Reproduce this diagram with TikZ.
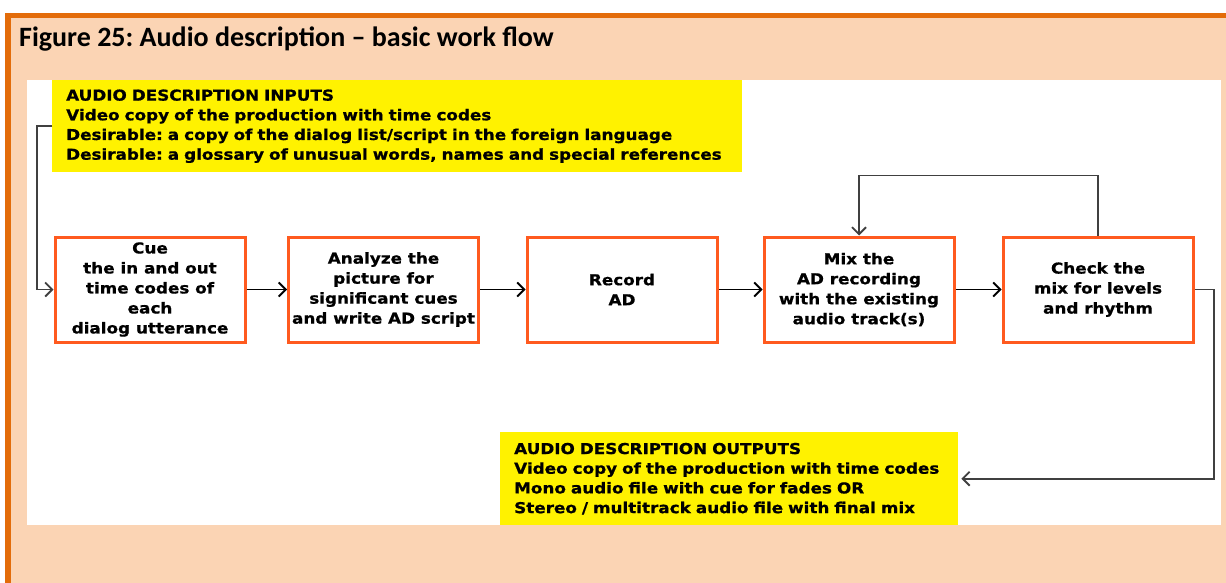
\documentclass[tikz,border=0pt]{standalone}
\usepackage{fontspec}
\setmainfont{DejaVu Sans}[BoldFeatures={FakeStretch=1.12,FakeBold=0.8}]
\newfontfamily\titlefont{Carlito}
\usetikzlibrary{arrows.meta}
\definecolor{peach}{HTML}{FBD4B4}
\definecolor{frameorange}{HTML}{E36C0A}
\definecolor{boxorange}{HTML}{FF5A1F}
\definecolor{lineGray}{HTML}{404040}
\tikzset{
  stepbox/.style={draw=boxorange, line width=3pt, fill=white, minimum width=190pt, minimum height=105pt,
    align=center, inner sep=2pt, font=\fontsize{15}{20}\selectfont\bfseries},
  yellowbox/.style={fill=yellow, anchor=north west, align=left, inner xsep=14pt, inner ysep=0pt,
    font=\fontsize{15}{19.7}\selectfont\bfseries},
  arr/.style={line width=1.8pt, -{Straight Barb[length=7pt,width=14pt]}},
  garr/.style={draw=lineGray, line width=1.8pt, -{Straight Barb[length=7pt,width=14pt]}},
}
\frenchspacing
\begin{document}
\begin{tikzpicture}[x=1pt,y=-1pt]
\useasboundingbox (0,0) rectangle (1226,583);
\fill[white] (0,0) rectangle (1226,583);
\fill[peach] (8,15) rectangle (1226,583);
\draw[frameorange, line width=5pt] (5,15.5) -- (1226,15.5);
\draw[frameorange, line width=6pt] (8,13) -- (8,583);
\node[anchor=base west, inner sep=0pt, font=\titlefont\fontsize{28}{32}\selectfont\bfseries] (title) at (19,47) {Figure 25: Audio description – basic work flow};
\fill[white] (27,80) rectangle (1221,525);

\node[yellowbox, minimum width=690pt, minimum height=92pt, text width=662pt] (inbox) at (52,80)
  {AUDIO DESCRIPTION INPUTS\\Video copy of the production with time codes\\Desirable: a copy of the dialog list/script in the foreign language\\Desirable: a glossary of unusual words, names and special references};

\node[stepbox] (b1) at (150,289.5) {Cue\\the in and out\\time codes of\\each\\dialog utterance};
\node[stepbox] (b2) at (383.5,289.5) {Analyze the\\picture for\\significant cues\\and write AD script};
\node[stepbox] (b3) at (622,289.5) {Record\\AD};
\node[stepbox] (b4) at (859,289.5) {Mix the\\AD recording\\with the existing\\audio track(s)};
\node[stepbox] (b5) at (1098,289.5) {Check the\\mix for levels\\and rhythm};

\node[yellowbox, minimum width=458pt, minimum height=93pt, text width=430pt] (outbox) at (500,432)
  {AUDIO DESCRIPTION OUTPUTS\\Video copy of the production with time codes\\Mono audio file with cue for fades OR\\Stereo / multitrack audio file with final mix};

\draw[arr] (b1) -- (b2);
\draw[arr] (b2) -- (b3);
\draw[arr] (b3) -- (b4);
\draw[arr] (b4) -- (b5);

\draw[garr] (inbox.west) -- ++(-15,0) |- (b1.west);
\draw[garr] (b5.north) -- ++(0,-60) -| (b4.north);
\coordinate (outturn) at (1214,289.5);
\draw[garr] (b5.east) -- (outturn) |- ([xshift=3pt]outbox.east);
\end{tikzpicture}
\end{document}
